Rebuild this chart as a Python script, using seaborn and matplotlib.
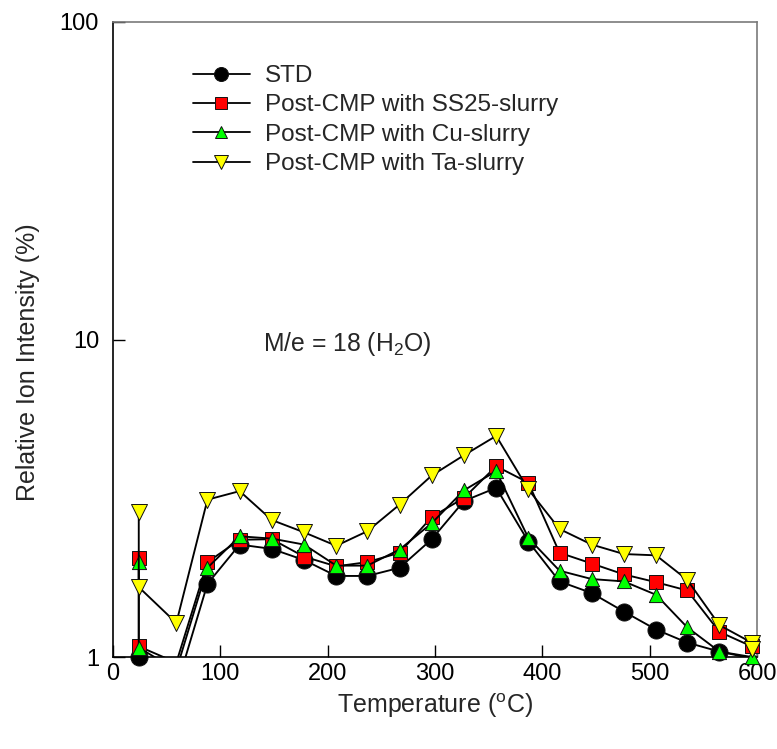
import numpy as np
import pandas as pd
import matplotlib
matplotlib.use("Agg")
import matplotlib.pyplot as plt
from matplotlib.lines import Line2D
from matplotlib.ticker import NullLocator, FixedLocator, FixedFormatter
import seaborn as sns

# ---------------- data ----------------
T_STD = [24, 59, 88, 118, 148, 178, 208, 237, 267, 297, 327, 357, 387, 416, 446, 476, 506, 535, 565, 595]
STD = [1.00, 0.80, 1.70, 2.26, 2.19, 2.02, 1.80, 1.80, 1.91, 2.35, 3.10, 3.41, 2.31, 1.73, 1.59, 1.39, 1.22, 1.11, 1.04, 0.99]

T_SS25 = [24, 24, 59, 88, 118, 148, 178, 208, 237, 267, 297, 327, 357, 387, 416, 446, 476, 506, 535, 565, 595]
SS25 = [2.05, 1.08, 0.96, 1.99, 2.34, 2.35, 2.07, 1.93, 1.99, 2.13, 2.76, 3.17, 3.99, 3.54, 2.13, 1.97, 1.82, 1.72, 1.62, 1.20, 1.08]

T_CU = [24, 24, 59, 88, 118, 148, 178, 208, 237, 267, 297, 327, 357, 387, 416, 446, 476, 506, 535, 565, 595]
CU = [1.99, 1.07, 0.91, 1.91, 2.40, 2.36, 2.26, 1.94, 1.94, 2.18, 2.64, 3.35, 3.85, 2.37, 1.87, 1.76, 1.73, 1.57, 1.24, 1.04, 1.00]

T_TA = [24, 24, 59, 88, 118, 148, 178, 208, 237, 267, 297, 327, 357, 387, 416, 446, 476, 506, 535, 565, 595, 595]
TA = [2.86, 1.66, 1.28, 3.13, 3.33, 2.70, 2.47, 2.24, 2.49, 3.02, 3.73, 4.32, 4.97, 3.37, 2.53, 2.26, 2.11, 2.09, 1.75, 1.26, 1.11, 1.06]

LABELS = ["STD", "Post-CMP with SS25-slurry", "Post-CMP with Cu-slurry", "Post-CMP with Ta-slurry"]
X_TICKS = [0, 100, 200, 300, 400, 500, 600]
Y_TICKS = [1, 10, 100]
Y_TICK_LABELS = ["1", "10", "100"]

# ---------------- style ----------------
sns.set_style("white")
plt.rcParams["font.family"] = ["Liberation Sans", "DejaVu Sans"]
plt.rcParams["mathtext.default"] = "regular"

fig = plt.figure(figsize=(7.77, 7.49), dpi=100)
ax = fig.add_axes([113 / 777, 1 - 657 / 749, 644 / 777, 635 / 749])
ax.set_yscale("log")

series = [
    (T_STD, STD, "o", 12.3, "#000000"),
    (T_SS25, SS25, "s", 10.0, "#FF0000"),
    (T_CU, CU, "^", 10.2, "#00FF00"),
    (T_TA, TA, "v", 11.5, "#FFFF00"),
]

handles = []
for i, (T, Y, mk, ms, fc) in enumerate(series):
    df = pd.DataFrame({"T": T, "y": Y})
    sns.lineplot(data=df, x="T", y="y", estimator=None, sort=False, color="black",
                 lw=1.35, ax=ax, zorder=2 + i)
    dfin = df[df["y"] >= 0.995]
    sns.scatterplot(data=dfin, x="T", y="y", marker=mk, s=ms ** 2, color=fc,
                    edgecolor="#111111", linewidth=0.7, ax=ax, clip_on=False,
                    zorder=2.5 + i, legend=False)
    handles.append(Line2D([], [], color="black", lw=1.3, marker=mk, markersize=ms * 0.82,
                          markerfacecolor=fc, markeredgecolor="#111111", markeredgewidth=0.7))

ax.set_xlim(0, 600)
ax.set_ylim(1, 100)
ax.xaxis.set_major_locator(FixedLocator(X_TICKS))
ax.yaxis.set_major_locator(FixedLocator(Y_TICKS))
ax.yaxis.set_major_formatter(FixedFormatter(Y_TICK_LABELS))
ax.yaxis.set_minor_locator(NullLocator())
ax.xaxis.set_minor_locator(NullLocator())

ax.tick_params(axis="x", which="major", direction="in", length=8.5, width=1.0,
               labelsize=17, pad=4, colors="black", bottom=True, top=False)
ax.tick_params(axis="y", which="major", direction="in", length=8.5, width=1.0,
               labelsize=17, pad=10, colors="black", left=True, right=False)

for s in ["left", "bottom"]:
    ax.spines[s].set_color("black")
    ax.spines[s].set_linewidth(1.2)
for s in ["top", "right"]:
    ax.spines[s].set_color("#7a7a7a")
    ax.spines[s].set_linewidth(1.2)

ax.set_xlabel("Temperature ($^{o}$C)", fontsize=18)
ax.set_ylabel("Relative Ion Intensity (%)", fontsize=18)
ax.xaxis.set_label_coords(0.5, -0.054)
ax.yaxis.set_label_coords(-0.114, 0.465)

ax.text(140, 9.7, "M/e = 18 (H$_2$O)", fontsize=17.8, va="center", ha="left")

ax.legend(handles, LABELS, loc="upper left", bbox_to_anchor=(0.124, 0.932),
          frameon=False, fontsize=17.5, handlelength=2.35, handletextpad=0.62,
          labelspacing=0.3, borderpad=0, borderaxespad=0)

fig.savefig("out.png", dpi=100)
